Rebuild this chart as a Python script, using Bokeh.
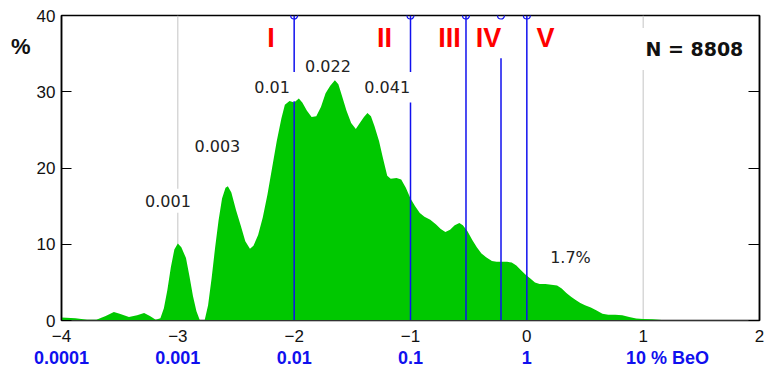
from bokeh.plotting import figure
from bokeh.models import Range1d, LinearAxis, FixedTicker, Label
from bokeh.embed import file_html
from bokeh.resources import INLINE

# ---- data: distribution of log10(BeO %) ----
curve_x = [-4.00, -3.88, -3.78, -3.70, -3.62, -3.55, -3.50, -3.42, -3.35, -3.29, -3.24, -3.19,
           -3.15, -3.12, -3.09, -3.06, -3.03, -3.00, -2.97, -2.93, -2.90, -2.87, -2.84, -2.81,
           -2.77, -2.74, -2.71, -2.68, -2.65, -2.62, -2.59, -2.57, -2.54, -2.50, -2.46, -2.42,
           -2.38, -2.35, -2.31, -2.27, -2.23, -2.19, -2.15, -2.11, -2.08, -2.04, -2.00, -1.96,
           -1.93, -1.89, -1.85, -1.81, -1.77, -1.73, -1.69, -1.65, -1.62, -1.59, -1.55, -1.51,
           -1.47, -1.44, -1.40, -1.37, -1.34, -1.31, -1.27, -1.24, -1.20, -1.17, -1.12, -1.08,
           -1.04, -1.00, -0.96, -0.92, -0.88, -0.83, -0.78, -0.74, -0.70, -0.66, -0.62, -0.58,
           -0.55, -0.51, -0.47, -0.43, -0.39, -0.35, -0.30, -0.26, -0.22, -0.17, -0.13, -0.09,
           -0.05, -0.01, 0.03, 0.07, 0.11, 0.16, 0.21, 0.26, 0.30, 0.34, 0.38, 0.42, 0.46, 0.50,
           0.55, 0.60, 0.65, 0.70, 0.76, 0.82, 0.88, 0.94, 1.00, 1.08, 1.16, 1.17]
curve_y = [0.4, 0.3, 0.1, 0.1, 0.6, 1.1, 0.9, 0.45, 0.7, 1.0, 0.6, 0.1,
           0.3, 1.6, 4.0, 7.0, 9.3, 10.1, 9.6, 8.2, 5.8, 3.2, 1.2, 0.0,
           0.0, 2.0, 5.5, 9.5, 13.1, 16.0, 17.4, 17.6, 16.8, 14.5, 12.5, 10.4,
           9.4, 9.8, 11.2, 13.5, 16.5, 20.0, 23.5, 26.5, 28.3, 28.8, 28.6, 29.1,
           28.6, 27.5, 26.7, 26.8, 28.0, 29.8, 30.8, 31.5, 31.0, 29.5, 27.5, 25.9,
           25.1, 25.8, 26.7, 27.2, 26.8, 25.5, 23.5, 21.5, 19.0, 18.6, 18.7, 18.5,
           17.4, 16.0, 15.0, 14.1, 13.6, 13.2, 12.6, 12.0, 11.6, 11.9, 12.5, 12.8,
           12.5, 11.7, 10.6, 9.6, 8.8, 8.3, 7.8, 7.7, 7.7, 7.7, 7.6, 7.2,
           6.6, 6.0, 5.5, 5.0, 4.8, 4.8, 4.7, 4.6, 4.2, 3.6, 3.1, 2.7, 2.3, 2.0,
           1.7, 1.3, 0.9, 0.75, 0.75, 0.7, 0.45, 0.25, 0.2, 0.15, 0.05, 0.0]

# class boundaries (log10 of 0.01, 0.1, 0.3, 0.6, 1 % BeO)
bound_x = [-2.0, -1.0, -0.523, -0.222, 0.0]
roman = ["I", "II", "III", "IV", "V"]
roman_x = [-2.2, -1.224, -0.665, -0.33, 0.16]
roman_y = [37.0, 37.0, 37.0, 37.0, 37.0]

# blue line segments (x, upper y, lower y)
seg_x = [-2.0, -2.0, -1.0, -1.0, -0.523, -0.222, 0.0]
seg_top = [40, 28.75, 40, 28.6, 40, 34.4, 40]
seg_bot = [32.6, 0, 32.6, 0, 0, 0, 0]

ann_text = ["0.001", "0.003", "0.01", "0.022", "0.041", "1.7%"]
ann_x = [-3.085, -2.66, -2.19, -1.71, -1.20, 0.375]
ann_y = [15.7, 22.95, 30.6, 33.4, 30.6, 8.3]

x_ticks = [-4, -3, -2, -1, 0, 1, 2]
x_tick_labels = ["\u22124", "\u22123", "\u22122", "\u22121", "0", "1", "2"]
pct_ticks = [-4, -3, -2, -1, 0, 1.21]
pct_labels = ["0.0001", "0.001", "0.01", "0.1", "1", "10 % BeO"]
y_ticks = [0, 10, 20, 30, 40]
unit_tick = [35.9]
unit_label = ["%"]

GREEN = "#00c800"
BLUE = "#1010ee"

p = figure(width=765, height=370, output_backend="svg", toolbar_location=None,
           x_range=Range1d(-4, 2), y_range=Range1d(0, 40),
           min_border_left=61, min_border_right=6, min_border_top=15, min_border_bottom=50,
           outline_line_color="black", outline_line_width=1.5)
p.xgrid.visible = False
p.ygrid.visible = False
p.background_fill_color = "white"
p.border_fill_color = "white"

# gray reference lines
p.segment(x0=[-3, 1], y0=[0, 0], x1=[-3, 1], y1=[40, 40], line_color="#c4c4c4", line_width=1)

# distribution fill
p.varea(x=curve_x, y1=[0] * len(curve_x), y2=curve_y, fill_color=GREEN)

# blue boundary lines
p.segment(x0=seg_x, y0=seg_bot, x1=seg_x, y1=seg_top, line_color=BLUE, line_width=1.5)
p.scatter(x=bound_x, y=[40] * len(bound_x), size=7, marker="circle",
          fill_color=None, line_color=BLUE, line_width=1.2)

# roman numerals
p.text(x=roman_x, y=roman_y, text=roman, text_align="center", text_baseline="middle",
       text_color="#ff0000", text_font_size="27px", text_font_style="bold",
       text_font={"value": "Liberation Sans"})

# annotation labels with white background
for t, x, y in zip(ann_text, ann_x, ann_y):
    p.add_layout(Label(x=x, y=y, text=t, text_align="center", text_baseline="middle",
                       text_font="DejaVu Sans", text_font_size="16px", text_color="#222222",
                       background_fill_color="white", padding=6))

p.add_layout(Label(x=1.44, y=35.6, text="N = 8808", text_align="center", text_baseline="middle",
                   text_font="DejaVu Sans", text_font_size="19px", text_font_style="bold",
                   text_color="#111111", background_fill_color="white", padding=10))

# axes
xa = p.xaxis[0]
xa.ticker = FixedTicker(ticks=x_ticks)
xa.major_label_overrides = {t: l for t, l in zip(x_ticks, x_tick_labels)}
xa.major_tick_in = 0
xa.major_tick_out = 0
xa.minor_tick_in = 0
xa.minor_tick_out = 0
xa.major_label_standoff = 9
xa.major_label_text_font = "Liberation Sans"
xa.major_label_text_font_size = "17px"
xa.major_label_text_color = "#111111"
xa.axis_line_color = "#333333"

pa = LinearAxis(ticker=FixedTicker(ticks=pct_ticks),
                major_label_overrides={t: l for t, l in zip(pct_ticks, pct_labels)},
                major_tick_in=0, major_tick_out=0, minor_tick_in=0, minor_tick_out=0,
                axis_line_color=None, major_label_standoff=3,
                major_label_text_font="Liberation Sans", major_label_text_font_size="18px",
                major_label_text_font_style="bold", major_label_text_color=BLUE)
p.add_layout(pa, "below")

ya = p.yaxis[0]
ya.ticker = FixedTicker(ticks=y_ticks)
ya.major_tick_in = 10
ya.major_tick_out = 0
ya.minor_tick_in = 0
ya.minor_tick_out = 0
ya.major_tick_line_width = 1.2
ya.major_label_standoff = 6
ya.major_label_text_font = "Liberation Sans"
ya.major_label_text_font_size = "17px"
ya.major_label_text_color = "#111111"
ya.axis_line_color = "black"
ya.axis_line_width = 1.5

# unit label "%" as an outer left axis label
ua = LinearAxis(ticker=FixedTicker(ticks=unit_tick),
                major_label_overrides={t: l for t, l in zip(unit_tick, unit_label)},
                major_tick_in=0, major_tick_out=0, minor_tick_in=0, minor_tick_out=0,
                axis_line_color=None, major_label_standoff=3,
                major_label_text_font="Liberation Sans", major_label_text_font_size="22px",
                major_label_text_font_style="bold", major_label_text_color="#111111")
p.add_layout(ua, "left")

ra = LinearAxis(ticker=FixedTicker(ticks=y_ticks), major_tick_in=11, major_tick_out=0,
                minor_tick_in=0, minor_tick_out=0,
                major_label_overrides={t: "" for t in y_ticks},
                major_label_standoff=0, axis_line_color="black", axis_line_width=1.5)
p.add_layout(ra, "right")

open("out.html", "w").write(file_html(p, INLINE))
